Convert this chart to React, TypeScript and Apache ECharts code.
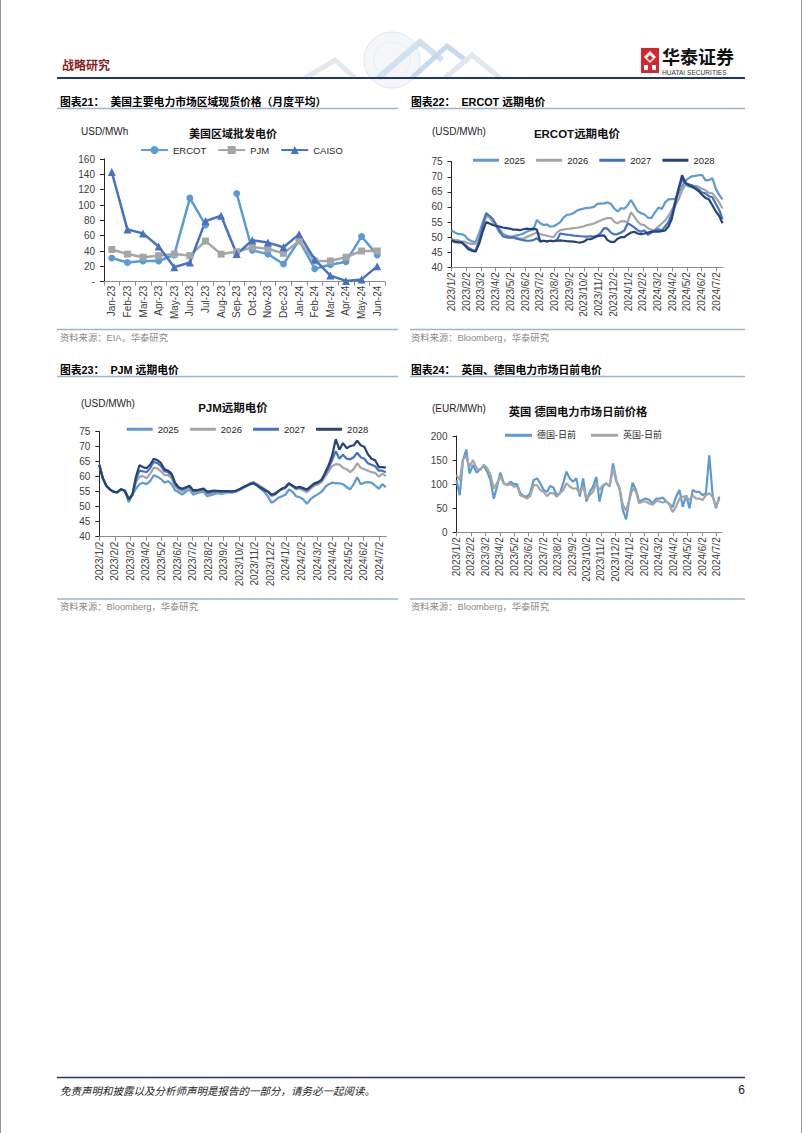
import React, { useEffect, useRef } from "react";
import * as echarts from "echarts";

// ---------- Chart 21: monthly spot prices ----------
const months21 = ["Jan-23","Feb-23","Mar-23","Apr-23","May-23","Jun-23","Jul-23","Aug-23","Sep-23","Oct-23","Nov-23","Dec-23","Jan-24","Feb-24","Mar-24","Apr-24","May-24","Jun-24"];
const ercot21 = [31, 25, 27, 27, 35, 109, 74, null, 115, 41, 36, 23, 54, 17, 22, 26, 59, 35];
const pjm21 = [42, 36, 32, 34, 36, 34, 53, 36, 39, 45, 43, 37, 53, 27, 27, 32, 40, 40];
const caiso21 = [143, 68, 63, 46, 19, 25, 79, 86, 36, 54, 51, 45, 62, 29, 8, 1, 3, 20];

// ---------- forward-curve month labels ----------
const fwdLabels = ["2023/1/2","2023/2/2","2023/3/2","2023/4/2","2023/5/2","2023/6/2","2023/7/2","2023/8/2","2023/9/2","2023/10/2","2023/11/2","2023/12/2","2024/1/2","2024/2/2","2024/3/2","2024/4/2","2024/5/2","2024/6/2","2024/7/2"];
const yearNames = ["2025", "2026", "2027", "2028"];

// ---------- Chart 22: ERCOT forward (weekly from 2023/1/2) ----------
const ercot2025 = [52.3,51.5,51,51,50.5,49.2,48.6,48.3,51.5,55,57.6,57,55.8,54.2,52.6,51,50.5,50.2,50.3,50.6,50.8,51.2,51.8,52.2,52.5,55.7,54.6,54,54.2,53.5,53.6,54.2,55,56.5,57.4,57.5,58,58.8,59.2,59.5,59.7,59.8,60,61,61.1,61.2,61.5,61,59.5,58.5,59.6,59.4,60.5,62.3,60.5,58.6,58,57.5,56.5,56.3,58.2,59.8,59.3,61.5,62.5,62.6,62.7,64.5,66.8,68.6,69.6,70.2,70.3,70.5,70.6,68.8,68.9,69.5,66,64,62.5];
const ercot2026 = [49.5,49,49,48.5,48.5,48,47.7,47.8,50,54,56.8,56.5,55,53.5,51.5,50.5,50,49.8,49.8,50,49.5,49.5,50,50.5,51,51.5,51,50.7,50.5,50.2,50,51.5,52.3,52.5,52.7,52.8,53,53.1,53.3,53.6,54,54.2,54.5,55,55.5,56,56.3,56.4,55,54.6,55.3,55.2,55,58.3,56.8,55.2,54.2,54,53,52.4,52.5,53.5,54.5,55.5,57,59,60.5,62.5,65.5,67.3,66.8,66.5,67,66.7,66,65.5,64.7,64.5,63,61.5,59.5];
const ercot2027 = [49,48.3,48.5,48.3,47.5,46.5,45.8,45.5,49,54,58,57,56,54,52,50.2,50,49.8,50,49.5,49.2,49,48.8,48.8,49,49.6,48.7,48.8,48.6,48.8,48.7,49,51.2,51,50.8,50.7,50.5,50.4,50.3,50.2,50.2,50.3,50.2,50.5,51.3,53,52.8,51.5,50.9,51,51.5,52.2,54.5,54,53.2,52.3,51.8,52.3,50.8,51.5,52.2,52.6,52.2,53.5,55,57.5,62,66,69,67.8,67.5,67.2,66.5,65.8,64.8,64.5,63.5,63.2,61,59,56];
const ercot2028 = [49,48.5,48.2,48.3,47.2,46,45.5,45.2,48,52,55,54.5,54,53.7,53.5,53.2,53,52.8,52.5,52.5,52.3,52.6,52.8,52.7,52.8,52.5,48.5,48.8,48.6,48.8,48.7,48.8,48.9,48.8,48.7,48.6,48.5,48.3,48.2,48.5,49.3,49.3,49.8,50.3,50.5,50.6,49,48.4,48.4,49.5,50,50,50.8,51.5,51.8,51.2,51,51.2,51.5,51.8,51.8,51.8,52,52.2,53.5,56,61,66,70.5,68,67.2,66.7,66,65.2,64,63,62.5,60.5,58.5,57,54.6];

// ---------- Chart 23: PJM forward (weekly from 2023/1/2) ----------
const pjm2025 = [64,59.5,57,55.8,55,54.8,55.8,55.3,51.5,54,56,57.5,58,57.5,58.5,60.5,60,59.2,58,58.5,57.5,55.5,54.8,54,55,55.8,54,54.5,54.8,55,53.5,53.8,54.2,54.5,54.3,54.5,54.8,54.7,55,55.5,56.2,56.8,57.5,57.8,57.2,56,55,53.5,51.3,52,53,53.5,54,55.8,55,53.5,53.2,52.5,51,52.5,53.5,54.2,55,56.5,57.5,58,57.8,57.8,57.5,56.5,55.8,57.5,59.8,57.5,58,58.2,58,57,56,57.5,56.5];
const pjm2026 = [64,59.5,57,55.8,55,54.8,55.8,55.3,52.5,54,58,60,60.2,59.5,61,63,62.8,61.8,60.5,60.5,59.5,56.8,55.7,55,55.7,56.3,54.8,55,55.2,55.5,54.2,54.3,54.6,54.8,54.6,54.8,55,54.9,55.1,55.6,56.3,57,57.8,58.2,57.6,56.8,56,55.2,53.5,54,55,55.8,56.2,57.5,56.8,55.8,56,55.5,54.8,56,57,57.5,58.2,60,61.8,63.5,64.2,64,63,62.5,61.5,62.5,64.5,63,62.5,62,61.5,61.3,60,61,60.2];
const pjm2027 = [64,59.5,57,55.8,55,54.8,55.8,55.3,52.5,54,59,62,61.8,61.5,62.8,65,64.5,63.5,61.8,61.5,60.5,57.5,56.2,55.7,56.3,56.8,55.2,55.3,55.5,55.8,54.6,54.8,55,55.1,54.9,55,55.1,55,55.2,55.7,56.4,57,57.6,58,57.3,56.5,55.8,55,54,54.5,55.2,56,56.5,57.8,57,56.2,56.5,56,55.5,56.5,57.5,58,58.8,60.8,63,65.5,68.5,66,67.3,66,65.8,66.5,68,66.5,66,64.5,64,63.5,62,62,61.5];
const pjm2028 = [64,59.5,57,55.8,55,54.8,55.8,55.3,52.5,54,60,63.8,63.2,62.8,64,66,65.5,64.5,62.5,62,61,58,56.5,56,56.5,57,55.5,55.5,55.8,56,55,55.2,55.4,55.3,55.2,55.2,55.2,55.1,55.3,55.8,56.4,57,57.5,57.8,57.1,56.3,55.6,55,54,54.2,55.2,56,56.5,57.8,57,56.3,56.6,56.2,55.7,56.8,57.8,58.2,59,61.3,63.8,67,72.5,69,71.2,69.5,70.2,70.5,72,70.5,70,67.5,66,65.5,63.2,63.2,63];

// ---------- Chart 24: UK / Germany day-ahead (weekly from 2023/1/2) ----------
const deDayAhead = [108,77,150,172,122,140,124,131,138,126,108,70,95,124,102,98,105,100,100,81,75,74,81,108,112,102,88,84,96,93,77,81,102,126,112,105,112,74,112,64,84,95,115,64,95,102,95,143,108,91,46,27,70,103,88,64,67,70,67,60,70,70,72,64,59,52,74,88,53,77,50,88,84,84,77,81,160,77,50,74];
const ukDayAhead = [119,108,153,157,136,150,133,129,140,133,119,91,102,116,102,98,100,95,96,77,74,70,75,98,98,88,84,75,82,81,74,81,88,102,95,91,91,81,95,70,77,84,102,88,98,102,95,133,105,91,57,45,67,91,84,60,64,64,60,57,65,64,62,64,57,42,53,70,74,74,67,77,70,70,67,77,81,74,53,70];

const FONT = "'Liberation Sans', Arial, 'Noto Sans CJK SC', sans-serif";
const CJK = "'Noto Sans CJK SC', 'Liberation Sans', sans-serif";
const C_LIGHT = "#5B9BD5";
const C_GRAY = "#A5A5A5";
const C_MID = "#4472C4";
const C_DARK = "#264478";
const yearColors = [C_LIGHT, C_GRAY, C_MID, C_DARK];

// weekly index -> position on the month axis (0 = 2023/1/2, 1 = 2023/2/2, ...)
const START = Date.UTC(2023, 0, 2);
function monthPos(i: number): number {
  const d = new Date(START + i * 7 * 86400000);
  const y = d.getUTCFullYear();
  const m = d.getUTCMonth();
  const day = d.getUTCDate();
  const dim = new Date(Date.UTC(y, m + 1, 0)).getUTCDate();
  return (y - 2023) * 12 + m + (day - 2) / dim;
}
const weekly = (arr: number[]) => arr.map((v, i) => [monthPos(i), v]);
const tickIdx = fwdLabels.map((_, i) => i);

function dateXAxis(gridIndex: number, max: number) {
  return {
    type: "value",
    gridIndex,
    min: 0,
    max,
    axisLine: { show: true, onZero: false, lineStyle: { color: "#8c8c8c", width: 1 } },
    axisTick: { show: true, customValues: tickIdx, length: 4, lineStyle: { color: "#8c8c8c" } },
    axisLabel: {
      customValues: tickIdx,
      formatter: (v: number) => fwdLabels[Math.round(v)] ?? "",
      rotate: 90,
      fontSize: 10,
      margin: 5,
      color: "#404040",
      fontFamily: FONT,
    },
    splitLine: { show: false },
  };
}

function valYAxis(gridIndex: number, min: number, max: number, interval: number, fmt?: (v: number) => string) {
  return {
    type: "value",
    gridIndex,
    min,
    max,
    interval,
    axisLine: { show: true, lineStyle: { color: "#262626", width: 1 } },
    axisTick: { show: true, length: 4, lineStyle: { color: "#262626" } },
    axisLabel: { fontSize: 10, margin: 9, color: "#404040", fontFamily: FONT, formatter: fmt },
    splitLine: { show: false },
  };
}

function text(x: number, y: number, t: string, o: any = {}) {
  return {
    type: "text",
    x,
    y,
    silent: true,
    style: {
      text: t,
      fill: o.fill ?? "#000",
      fontSize: o.fontSize ?? 10,
      fontWeight: o.fontWeight ?? "normal",
      fontStyle: o.fontStyle ?? "normal",
      fontFamily: o.fontFamily ?? FONT,
      align: o.align ?? "left",
      verticalAlign: "middle",
    },
  };
}
function hline(x1: number, x2: number, y: number, stroke: string, w: number) {
  return { type: "line", silent: true, shape: { x1, y1: y, x2, y2: y }, style: { stroke, lineWidth: w } };
}

const SEC_LINE = "#9fb4cb";
const SRC = "#8a8a8a";

const graphics: any[] = [
  // page border
  { type: "line", silent: true, shape: { x1: 0.5, y1: 0, x2: 0.5, y2: 1133 }, style: { stroke: "#9a9a9a", lineWidth: 1 } },
  { type: "line", silent: true, shape: { x1: 801.5, y1: 0, x2: 801.5, y2: 1133 }, style: { stroke: "#9a9a9a", lineWidth: 1 } },
  // header decoration (pale globe + ribbons)
  { type: "circle", silent: true, shape: { cx: 392, cy: 60, r: 28 }, style: { fill: "rgba(236,240,245,0.6)", stroke: "#e0e5eb", lineWidth: 1 } },
  { type: "circle", silent: true, shape: { cx: 392, cy: 60, r: 18 }, style: { fill: "none", stroke: "#e6eaef", lineWidth: 0.8 } },
  { type: "polyline", silent: true, shape: { points: [[305, 78], [335, 60], [355, 78]] }, style: { stroke: "#e4e8ed", lineWidth: 5, fill: "none" } },
  { type: "polyline", silent: true, shape: { points: [[378, 78], [420, 42], [442, 60]] }, style: { stroke: "#d2e1f1", lineWidth: 6, fill: "none" } },
  { type: "polyline", silent: true, shape: { points: [[412, 78], [447, 46], [468, 62]] }, style: { stroke: "#c5d9ee", lineWidth: 5, fill: "none" } },
  { type: "polyline", silent: true, shape: { points: [[445, 78], [472, 55], [500, 78]] }, style: { stroke: "#e3e7ec", lineWidth: 5, fill: "none" } },
  // header
  text(62, 64, "战略研究", { fill: "#8B1C1C", fontSize: 12, fontWeight: "bold", fontFamily: CJK }),
  { type: "rect", silent: true, shape: { x: 641, y: 48, width: 18, height: 25 }, style: { fill: "#D7262C" } },
  { type: "polygon", silent: true, shape: { points: [[650, 51], [656, 57], [650, 63], [644, 57]] }, style: { fill: "#fff" } },
  { type: "polygon", silent: true, shape: { points: [[650, 55], [653, 58], [650, 61], [647, 58]] }, style: { fill: "#D7262C" } },
  { type: "rect", silent: true, shape: { x: 644, y: 65, width: 4, height: 5 }, style: { fill: "#fff" } },
  { type: "rect", silent: true, shape: { x: 652, y: 65, width: 4, height: 5 }, style: { fill: "#fff" } },
  text(662, 56, "华泰证券", { fontSize: 18, fontWeight: "bold", fontFamily: CJK, fill: "#111" }),
  text(662, 72.5, "HUATAI SECURITIES", { fontSize: 6.6, fill: "#333" }),
  hline(57, 745, 78, "#1F3864", 2),

  // section titles
  text(60, 101.5, "图表21：  美国主要电力市场区域现货价格（月度平均）", { fontSize: 10.8, fontWeight: "bold" }),
  hline(57, 398, 108.5, SEC_LINE, 1.3),
  text(411, 101.5, "图表22：  ERCOT 远期电价", { fontSize: 10.8, fontWeight: "bold" }),
  hline(410, 745, 108.5, SEC_LINE, 1.3),
  text(60, 370, "图表23：  PJM 远期电价", { fontSize: 10.8, fontWeight: "bold" }),
  hline(57, 398, 376.5, SEC_LINE, 1.3),
  text(411, 370, "图表24：  英国、德国电力市场日前电价", { fontSize: 10.8, fontWeight: "bold" }),
  hline(410, 745, 376.5, SEC_LINE, 1.3),

  // units
  text(81, 131.5, "USD/MWh", { fontSize: 10, fill: "#262626" }),
  text(432, 131.5, "(USD/MWh)", { fontSize: 10, fill: "#262626" }),
  text(81, 403.5, "(USD/MWh)", { fontSize: 10, fill: "#262626" }),
  text(432, 408.3, "(EUR/MWh)", { fontSize: 10, fill: "#262626" }),

  // sources
  hline(57, 398, 329.5, SEC_LINE, 1.3),
  text(60, 337.5, "资料来源：EIA，华泰研究", { fontSize: 9.3, fill: SRC }),
  hline(410, 745, 329.5, SEC_LINE, 1.3),
  text(411, 337.5, "资料来源：Bloomberg，华泰研究", { fontSize: 9.3, fill: SRC }),
  hline(57, 398, 599, SEC_LINE, 1.3),
  text(60, 606.5, "资料来源：Bloomberg，华泰研究", { fontSize: 9.3, fill: SRC }),
  hline(410, 745, 599, SEC_LINE, 1.3),
  text(411, 606.5, "资料来源：Bloomberg，华泰研究", { fontSize: 9.3, fill: SRC }),

  // footer
  hline(57, 745, 1077.5, "#1F3864", 1.5),
  text(60, 1090, "免责声明和披露以及分析师声明是报告的一部分，请务必一起阅读。", { fontSize: 10.5, fontStyle: "italic", fontFamily: CJK, fill: "#222" }),
  text(745, 1090, "6", { fontSize: 12, align: "right", fill: "#222" }),
];

function title(t: string, cx: number, cy: number, size: number) {
  return {
    text: t,
    left: cx,
    top: cy - size / 2 - 1,
    textAlign: "center",
    padding: 0,
    textStyle: { fontSize: size, fontWeight: "bold", color: "#111", fontFamily: FONT, lineHeight: size + 2 },
  };
}

// legend with line+symbol icons (chart 21)
function legendSym(data: string[], left: number, cy: number, gap: number, fs: number, w: number) {
  return {
    data,
    left,
    top: cy - 5,
    padding: 0,
    itemWidth: w,
    itemHeight: 10,
    itemGap: gap,
    textStyle: { fontSize: fs, color: "#262626", fontFamily: FONT },
  };
}
// legend with plain line icons (forward charts)
function legendLine(data: string[], left: number, cy: number, gap: number, fs: number, w: number) {
  return {
    data,
    left,
    top: cy - 1.5,
    padding: 0,
    icon: "rect",
    itemWidth: w,
    itemHeight: 3,
    itemGap: gap,
    textStyle: { fontSize: fs, color: "#262626", fontFamily: FONT },
  };
}

const option: any = {
  animation: false,
  backgroundColor: "#ffffff",
  textStyle: { fontFamily: FONT },
  title: [
    title("美国区域批发电价", 233, 134.3, 11),
    title("ERCOT远期电价", 577, 134.3, 11.5),
    title("PJM远期电价", 233, 407.7, 11.5),
    title("英国 德国电力市场日前价格", 578, 412.3, 11.3),
  ],
  legend: [
    legendSym(["ERCOT", "PJM", "CAISO"], 140, 150.3, 11, 9.5, 27),
    legendLine(yearNames, 473, 157, 11, 9.5, 26),
    legendLine(yearNames, 126.7, 426, 11, 9.5, 26),
    legendLine(["德国-日前", "英国-日前"], 505, 432.3, 15, 9, 27),
  ],
  grid: [
    { left: 104, top: 159, width: 281, height: 122.7 },
    { left: 451.5, top: 161.7, width: 271.5, height: 105.6 },
    { left: 99.3, top: 431.7, width: 287, height: 105 },
    { left: 456.5, top: 436, width: 265.5, height: 96.3 },
  ],
  xAxis: [
    {
      type: "category",
      gridIndex: 0,
      data: months21,
      boundaryGap: true,
      axisLine: { show: true, onZero: false, lineStyle: { color: "#8c8c8c" } },
      axisTick: { show: true, interval: 0, length: 4, lineStyle: { color: "#8c8c8c" } },
      axisLabel: { interval: 0, rotate: 90, fontSize: 10, margin: 4, color: "#404040", fontFamily: FONT },
    },
    dateXAxis(1, 18.45),
    dateXAxis(2, 18.45),
    dateXAxis(3, 18.38),
  ],
  yAxis: [
    valYAxis(0, 0, 160, 20, (v: number) => (v === 0 ? "-" : String(v))),
    valYAxis(1, 40, 75, 5),
    valYAxis(2, 40, 75, 5),
    valYAxis(3, 0, 200, 50),
  ],
  series: [
    { name: "ERCOT", type: "line", xAxisIndex: 0, yAxisIndex: 0, data: ercot21, connectNulls: false, symbol: "circle", symbolSize: 7, color: C_LIGHT, lineStyle: { width: 2.5 } },
    { name: "PJM", type: "line", xAxisIndex: 0, yAxisIndex: 0, data: pjm21, symbol: "rect", symbolSize: 7, color: C_GRAY, lineStyle: { width: 2.5 } },
    { name: "CAISO", type: "line", xAxisIndex: 0, yAxisIndex: 0, data: caiso21, symbol: "triangle", symbolSize: 8, color: C_MID, lineStyle: { width: 2.5 } },
    ...[ercot2025, ercot2026, ercot2027, ercot2028].map((arr, i) => ({
      name: yearNames[i], type: "line", xAxisIndex: 1, yAxisIndex: 1, data: weekly(arr), symbol: "none", color: yearColors[i], lineStyle: { width: 2.2 },
    })),
    ...[pjm2025, pjm2026, pjm2027, pjm2028].map((arr, i) => ({
      name: yearNames[i], type: "line", xAxisIndex: 2, yAxisIndex: 2, data: weekly(arr), symbol: "none", color: yearColors[i], lineStyle: { width: 2.2 },
    })),
    { name: "德国-日前", type: "line", xAxisIndex: 3, yAxisIndex: 3, data: weekly(deDayAhead), symbol: "none", color: C_LIGHT, lineStyle: { width: 2.2 } },
    { name: "英国-日前", type: "line", xAxisIndex: 3, yAxisIndex: 3, data: weekly(ukDayAhead), symbol: "none", color: C_GRAY, lineStyle: { width: 2.2 } },
  ],
  graphic: { elements: graphics },
};

export default function App() {
  const ref = useRef<HTMLDivElement>(null);
  useEffect(() => {
    if (!ref.current) return;
    const chart = echarts.init(ref.current, undefined, { renderer: "svg", width: 802, height: 1133 });
    chart.setOption(option);
    return () => chart.dispose();
  }, []);
  return (
    <div
      ref={ref}
      style={{ position: "absolute", left: 0, top: 0, width: 802, height: 1133, background: "#fff" }}
    />
  );
}
